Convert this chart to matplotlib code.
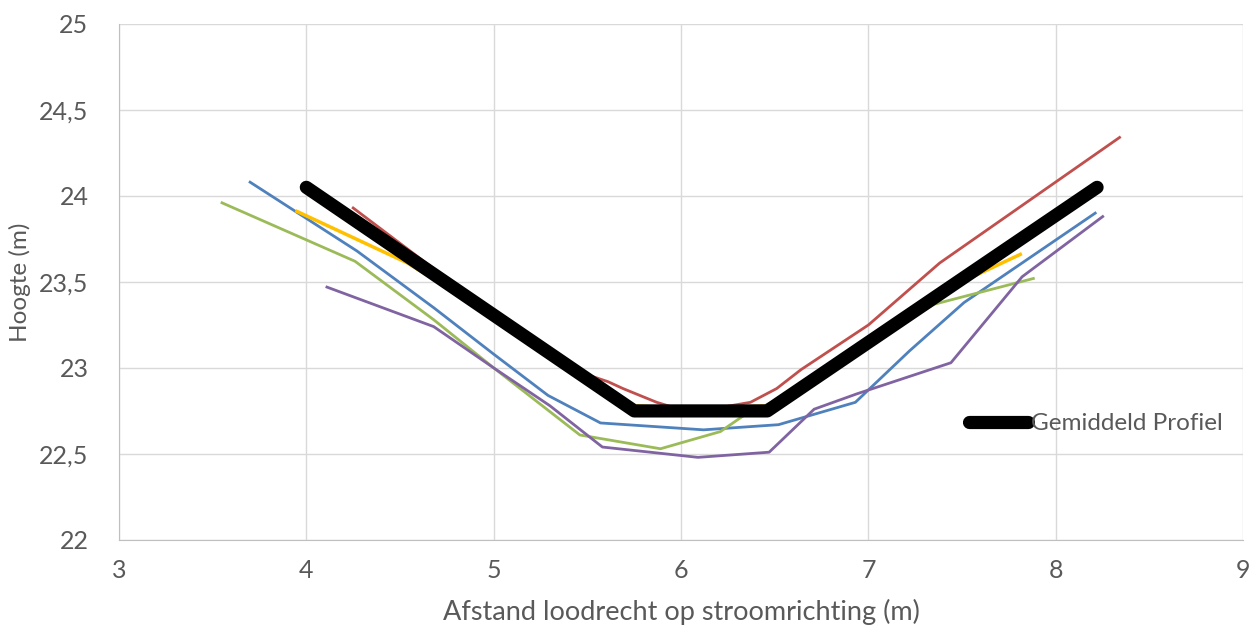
import matplotlib.pyplot as plt
from matplotlib.ticker import FuncFormatter

# profile data (x: distance in m, y: height in m)
blue_x = [3.70, 4.27, 4.68, 5.0, 5.29, 5.57, 6.12, 6.52, 6.93, 7.22, 7.51, 8.21]
blue_y = [24.08, 23.68, 23.35, 23.08, 22.84, 22.68, 22.64, 22.67, 22.80, 23.10, 23.38, 23.90]

red_x = [4.25, 4.7, 5.2, 5.5, 5.61, 5.69, 5.87, 6.05, 6.37, 6.51, 6.64, 7.0, 7.38, 8.34]
red_y = [23.93, 23.56, 23.18, 22.96, 22.92, 22.88, 22.80, 22.74, 22.80, 22.88, 22.99, 23.25, 23.61, 24.34]

green_x = [3.55, 4.26, 4.68, 5.0, 5.46, 5.89, 6.21, 6.33, 6.6, 7.0, 7.35, 7.88]
green_y = [23.96, 23.62, 23.28, 23.0, 22.61, 22.53, 22.63, 22.72, 22.86, 23.15, 23.37, 23.52]

purple_x = [4.11, 4.68, 5.0, 5.3, 5.58, 6.09, 6.47, 6.71, 6.94, 7.44, 7.82, 8.25]
purple_y = [23.47, 23.24, 23.0, 22.78, 22.54, 22.48, 22.51, 22.76, 22.85, 23.03, 23.53, 23.88]

yellow_x = [3.95, 4.54, 5.0, 5.5, 5.75, 6.1, 6.46, 6.9, 7.4, 7.81]
yellow_y = [23.91, 23.61, 23.30, 22.95, 22.78, 22.76, 22.78, 23.10, 23.45, 23.66]

mean_x = [4.0, 5.75, 6.46, 8.22]
mean_y = [24.05, 22.75, 22.75, 24.05]

plt.rcParams['font.family'] = ['Lato', 'DejaVu Sans']
grey = '#595959'

fig = plt.figure(figsize=(12.52, 6.3), dpi=100)
ax = fig.add_axes([0.095, 0.143, 0.898, 0.819])

ax.plot(blue_x, blue_y, color='#4F81BD', lw=2)
ax.plot(red_x, red_y, color='#C0504D', lw=2)
ax.plot(yellow_x, yellow_y, color='#FFC000', lw=2.5)
ax.plot(green_x, green_y, color='#9BBB59', lw=2)
ax.plot(purple_x, purple_y, color='#8064A2', lw=2)
ax.plot(mean_x, mean_y, color='black', lw=9.5, solid_capstyle='round',
        label='Gemiddeld Profiel')

ax.set_xlim(3, 9)
ax.set_ylim(22, 25)
ax.set_xticks(range(3, 10))
ax.set_yticks([22, 22.5, 23, 23.5, 24, 24.5, 25])
ax.yaxis.set_major_formatter(FuncFormatter(lambda v, p: f'{v:g}'.replace('.', ',')))
ax.grid(True, color='#D9D9D9', lw=1)
ax.set_axisbelow(True)
for s in ['top', 'right']:
    ax.spines[s].set_visible(False)
for s in ['left', 'bottom']:
    ax.spines[s].set_color('#BFBFBF')
ax.tick_params(length=0, labelsize=18, colors=grey)
ax.tick_params(axis='y', pad=22)
ax.tick_params(axis='x', pad=14)

ax.set_xlabel('Afstand loodrecht op stroomrichting (m)', fontsize=19.5, color=grey, labelpad=12)
ax.set_ylabel('Hoogte (m)', fontsize=17.5, color=grey, labelpad=6)

ax.legend(loc='center left', bbox_to_anchor=(0.737, 0.225), frameon=False,
          fontsize=17.5, handlelength=2.4, handletextpad=0.15, labelcolor=grey)

fig.savefig('out.png', dpi=100)
